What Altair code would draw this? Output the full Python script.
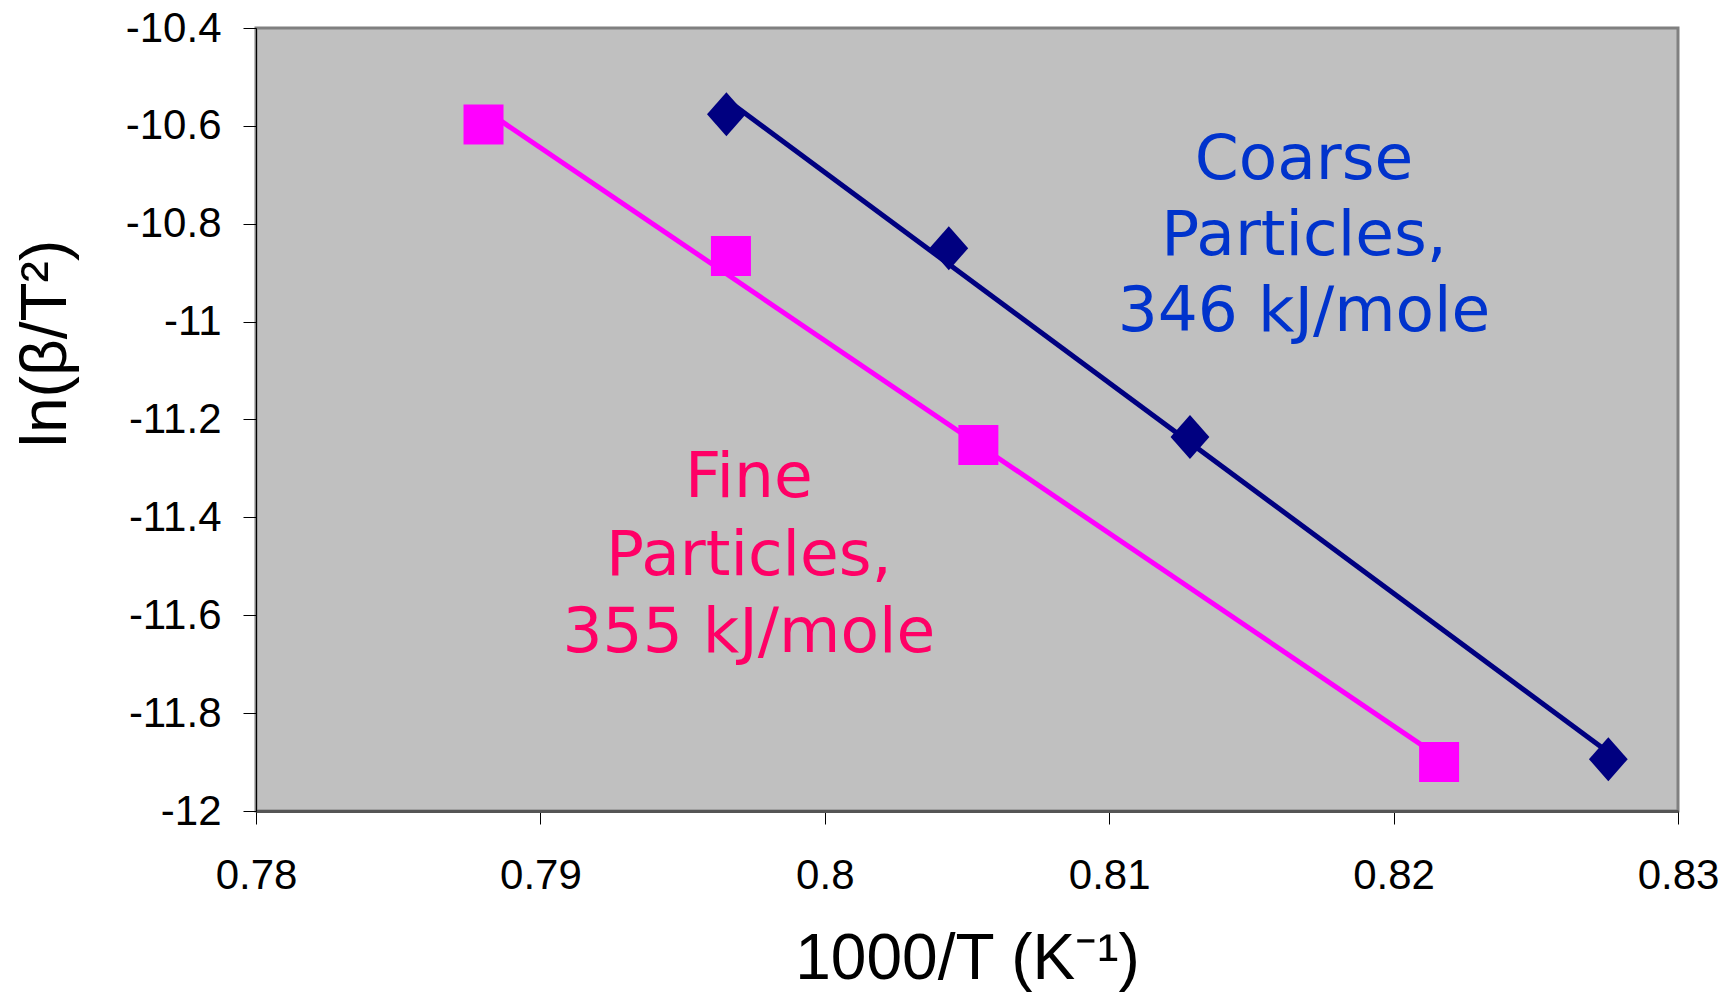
import altair as alt
import pandas as pd

# Fine particles (magenta squares)
fine_x = [0.7880, 0.7967, 0.8054, 0.8216]
fine_y = [-10.597, -10.866, -11.252, -11.900]

# Coarse particles (navy diamonds)
coarse_x = [0.79654, 0.80436, 0.81284, 0.82755]
coarse_y = [-10.576, -10.850, -11.236, -11.894]

# Annotation text lines and positions (data units)
coarse_lines = ["Coarse", "Particles,", "346 kJ/mole"]
coarse_ann_x = [0.81685, 0.81685, 0.81685]
coarse_ann_y = [-10.670, -10.825, -10.980]
fine_lines = ["Fine", "Particles,", "355 kJ/mole"]
fine_ann_x = [0.79733, 0.79733, 0.79733]
fine_ann_y = [-11.319, -11.479, -11.636]

x_ticks = [0.78, 0.79, 0.80, 0.81, 0.82, 0.83]
y_ticks = [-10.4, -10.6, -10.8, -11.0, -11.2, -11.4, -11.6, -11.8, -12.0]

fine_df = pd.DataFrame({"x": fine_x, "y": fine_y})
coarse_df = pd.DataFrame({"x": coarse_x, "y": coarse_y})
coarse_ann = pd.DataFrame({"x": coarse_ann_x, "y": coarse_ann_y, "t": coarse_lines})
fine_ann = pd.DataFrame({"x": fine_ann_x, "y": fine_ann_y, "t": fine_lines})

lbl = "replace(format(datum.value, '~g'), '\u2212', '-')"

xs = alt.Scale(domain=[0.78, 0.83], nice=False, zero=False)
ys = alt.Scale(domain=[-12, -10.4], nice=False, zero=False)

X = alt.X("x:Q", scale=xs, axis=alt.Axis(
    values=x_ticks, title="1000/T (K\u207b\u00b9)", labelExpr=lbl,
    grid=False, domainColor="#555555", domainWidth=3, tickColor="black", tickWidth=1,
    tickSize=13, labelPadding=31, labelFontSize=42, labelFont="Liberation Sans",
    labelColor="black", titleFont="Liberation Sans", titleFontSize=64,
    titleFontWeight="normal", titleColor="black", titleY=167, titleBaseline="alphabetic",
    labelFlush=False))
Y = alt.Y("y:Q", scale=ys, axis=alt.Axis(
    values=y_ticks, title="ln(\u03b2/T\u00b2)", labelExpr=lbl,
    grid=False, domainColor="black", domainWidth=1, tickColor="black", tickWidth=1,
    tickSize=13, labelPadding=22, labelFontSize=42, labelFont="Liberation Sans",
    labelColor="black", titleFont="Liberation Sans", titleFontSize=64,
    titleFontWeight="normal", titleColor="black", titleAngle=-90,
    titleX=-210, titleY=315, titleBaseline="middle", titleAlign="center",
    labelFlush=False))

fine_line = alt.Chart(fine_df).transform_regression("x", "y").mark_line(
    color="#FF00FF", strokeWidth=5).encode(x=X, y=Y)
coarse_line = alt.Chart(coarse_df).transform_regression("x", "y").mark_line(
    color="#000080", strokeWidth=5).encode(x=X, y=Y)

fine_pts = alt.Chart(fine_df).mark_point(
    shape="square", filled=True, opacity=1, color="#FF00FF", size=1600).encode(x=X, y=Y)
coarse_pts = alt.Chart(coarse_df).mark_point(
    shape="M0,-1.1L0.97,0L0,1.1L-0.97,0Z", filled=True, opacity=1,
    color="#000080", size=1600).encode(x=X, y=Y)

coarse_txt = alt.Chart(coarse_ann).mark_text(
    font="DejaVu Sans", fontSize=63, color="#0033CC", align="center",
    baseline="middle").encode(x=X, y=Y, text="t:N")
fine_txt = alt.Chart(fine_ann).mark_text(
    font="DejaVu Sans", fontSize=63, color="#FF0066", align="center",
    baseline="middle").encode(x=X, y=Y, text="t:N")

chart = alt.layer(fine_line, coarse_line, fine_pts, coarse_pts, coarse_txt, fine_txt).properties(
    width=1422, height=783,
    autosize=alt.AutoSizeParams(type="none"),
    padding={"left": 256, "top": 28, "right": 58, "bottom": 181},
    background="white",
).configure_view(fill="#C0C0C0", stroke="#808080", strokeWidth=3)

chart.save("out.html", embed_options={"renderer": "svg", "actions": False})
